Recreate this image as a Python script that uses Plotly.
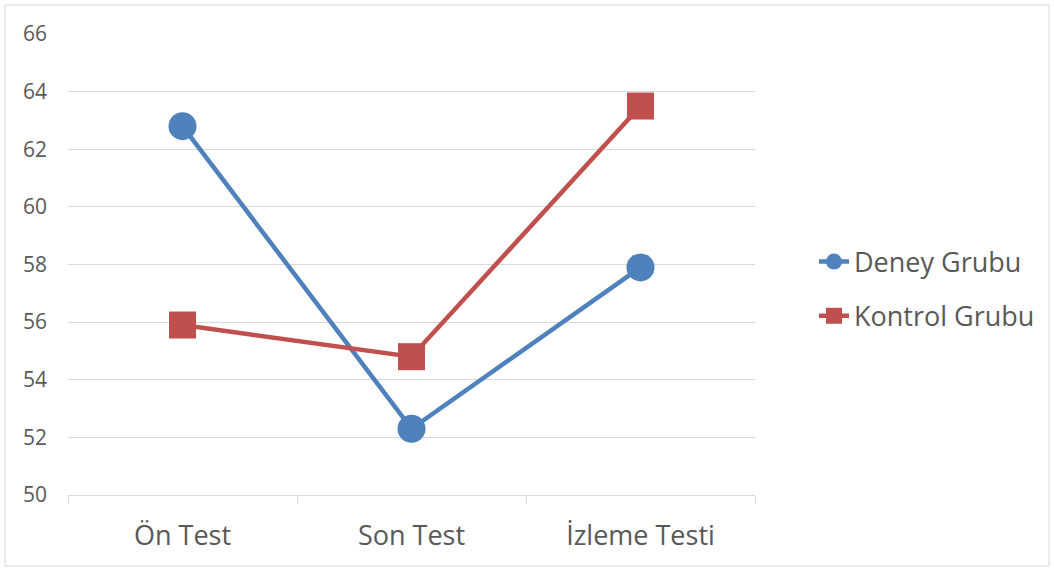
import plotly.graph_objects as go

categories = ["Ön Test", "Son Test", "İzleme Testi"]
deney_grubu = [62.8, 52.3, 57.9]
kontrol_grubu = [55.9, 54.8, 63.5]
y_ticks = [50, 52, 54, 56, 58, 60, 62, 64, 66]

BLUE = "#4F81BD"
RED = "#C0504D"
GRID = "#D9D9D9"
TEXT = "#595959"
FONT = "Open Sans, sans-serif"

fig = go.Figure()
fig.add_trace(go.Scatter(
    x=categories, y=deney_grubu, name="Deney Grubu", mode="lines+markers",
    line=dict(color=BLUE, width=4.5),
    marker=dict(symbol="circle", size=28, color=BLUE),
    legendgroup="a",
))
fig.add_trace(go.Scatter(
    x=categories, y=kontrol_grubu, name="Kontrol Grubu", mode="lines+markers",
    line=dict(color=RED, width=4.5),
    marker=dict(symbol="square", size=27, color=RED),
    legendgroup="b",
))

W, H = 1054, 570
L, R, T, B = 68, 299, 34, 75
pw, ph = W - L - R, H - T - B

def px_x(v):
    return (v - L) / pw

def px_y(v):
    return (H - B - v) / ph

fig.update_layout(
    width=W, height=H,
    margin=dict(l=L, r=R, t=T, b=B),
    paper_bgcolor="white", plot_bgcolor="white",
    font=dict(family=FONT, color=TEXT),
    showlegend=True,
    legend=dict(
        x=px_x(814), xanchor="left", y=px_y(289), yanchor="middle",
        font=dict(size=27, color=TEXT), bgcolor="rgba(0,0,0,0)",
        traceorder="grouped", tracegroupgap=16,
    ),
    xaxis=dict(
        type="category", range=[-0.5, 2.5],
        showgrid=False, zeroline=False,
        showline=True, linecolor=GRID, linewidth=1,
        ticks="outside", tickson="boundaries", ticklen=8, tickcolor=GRID,
        tickfont=dict(size=27, color=TEXT, family=FONT),
        ticklabelstandoff=17,
    ),
    yaxis=dict(
        range=[50, 66], tickvals=y_ticks,
        showgrid=True, gridcolor=GRID, gridwidth=1,
        zeroline=False, showline=False, ticks="",
        tickfont=dict(size=21, color=TEXT, family=FONT),
        ticklabelstandoff=20,
    ),
    shapes=[dict(
        type="rect", xref="paper", yref="paper",
        x0=px_x(5), x1=px_x(1049), y0=px_y(566), y1=px_y(5),
        line=dict(color=GRID, width=1), fillcolor="rgba(0,0,0,0)", layer="below",
    )],
)

fig.write_html("out.html")
